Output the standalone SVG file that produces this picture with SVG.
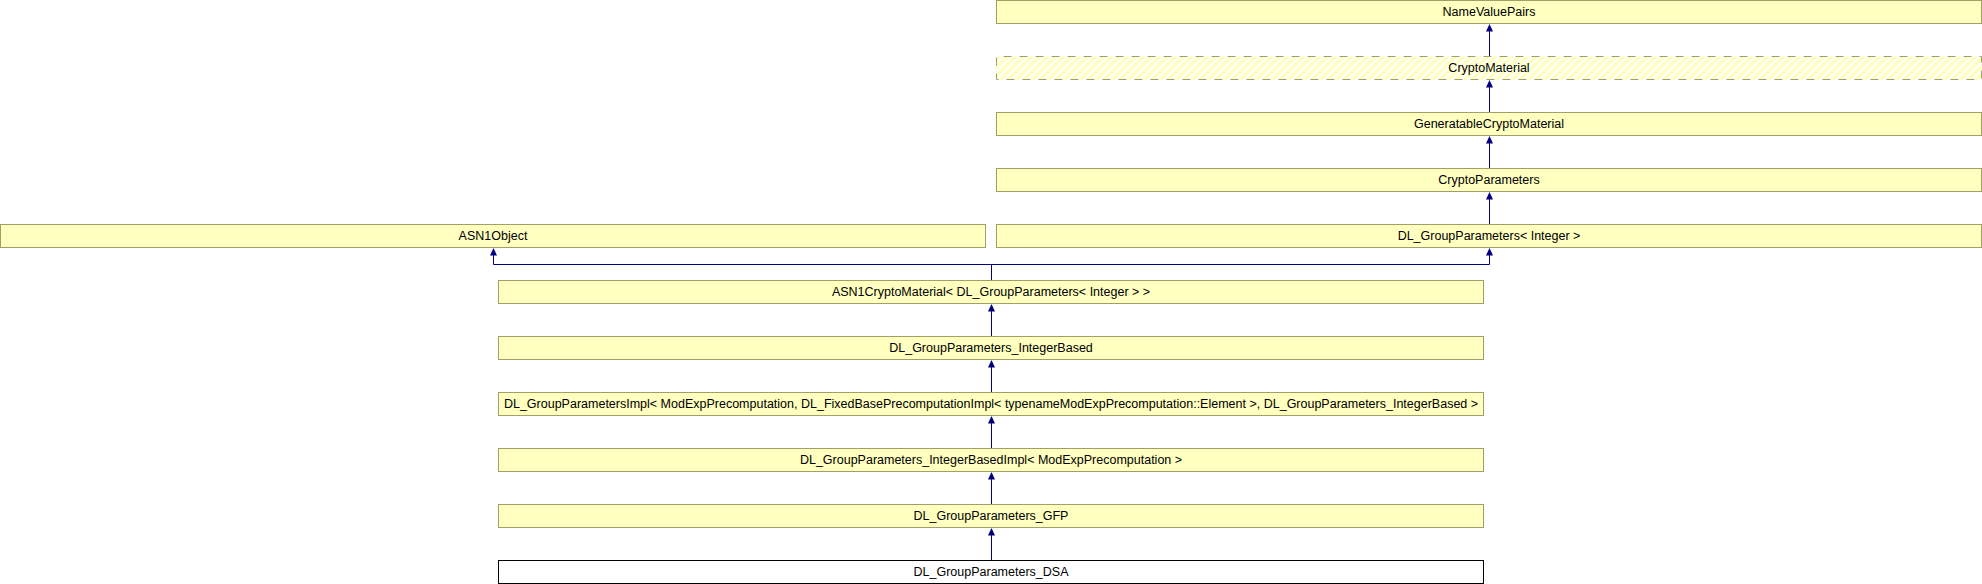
<svg xmlns="http://www.w3.org/2000/svg" width="1982" height="584" viewBox="0 0 1982 584">
<style>
.box{fill:#FFFFC0;stroke:#A0A066;stroke-width:1}
.cur{fill:#FFFFFF;stroke:#000000;stroke-width:1}
.virt{fill:url(#hatch);stroke:#A0A066;stroke-width:1;stroke-dasharray:8 8;stroke-dashoffset:9}
.lbl{font-family:"Liberation Sans",Arial,sans-serif;font-size:12.5px;fill:#000000;text-anchor:middle}
.edge{fill:none;stroke:#000080;stroke-width:1}
.head{fill:#000080;stroke:none}
</style>
<defs>
<pattern id="hatch" patternUnits="userSpaceOnUse" width="8" height="8">
<rect x="0" y="0" width="8" height="8" fill="#FFFFFF"/>
<path d="M-2,2 L2,-2 M0,8 L8,0 M6,10 L10,6" stroke="#FFFFC0" stroke-width="3.5"/>
</pattern>
</defs>
<rect x="0" y="0" width="1982" height="584" fill="#FFFFFF"/>
<g id="connectors">
<path class="edge" d="M1489.5,31 V56.5"/>
<polygon class="head" points="1489.5,24 1486,31.5 1493,31.5"/>
<path class="edge" d="M1489.5,87 V112.5"/>
<polygon class="head" points="1489.5,80 1486,87.5 1493,87.5"/>
<path class="edge" d="M1489.5,143 V168.5"/>
<polygon class="head" points="1489.5,136 1486,143.5 1493,143.5"/>
<path class="edge" d="M1489.5,199 V224.5"/>
<polygon class="head" points="1489.5,192 1486,199.5 1493,199.5"/>
<path class="edge" d="M493.5,255 V264.5 H1489.5 V255 M991.5,264.5 V280.5"/>
<polygon class="head" points="493.5,248 490,255.5 497,255.5"/>
<polygon class="head" points="1489.5,248 1486,255.5 1493,255.5"/>
<path class="edge" d="M991.5,311 V336.5"/>
<polygon class="head" points="991.5,304 988,311.5 995,311.5"/>
<path class="edge" d="M991.5,367 V392.5"/>
<polygon class="head" points="991.5,360 988,367.5 995,367.5"/>
<path class="edge" d="M991.5,423 V448.5"/>
<polygon class="head" points="991.5,416 988,423.5 995,423.5"/>
<path class="edge" d="M991.5,479 V504.5"/>
<polygon class="head" points="991.5,472 988,479.5 995,479.5"/>
<path class="edge" d="M991.5,535 V560.5"/>
<polygon class="head" points="991.5,528 988,535.5 995,535.5"/>
</g>
<g id="NameValuePairs">
<rect class="box" x="996.5" y="0.5" width="985" height="23"/>
<text class="lbl" x="1489" y="16">NameValuePairs</text>
</g>
<g id="CryptoMaterial">
<rect class="virt" x="996.5" y="56.5" width="985" height="23"/>
<text class="lbl" x="1489" y="72">CryptoMaterial</text>
</g>
<g id="GeneratableCryptoMaterial">
<rect class="box" x="996.5" y="112.5" width="985" height="23"/>
<text class="lbl" x="1489" y="128">GeneratableCryptoMaterial</text>
</g>
<g id="CryptoParameters">
<rect class="box" x="996.5" y="168.5" width="985" height="23"/>
<text class="lbl" x="1489" y="184">CryptoParameters</text>
</g>
<g id="ASN1Object">
<rect class="box" x="0.5" y="224.5" width="985" height="23"/>
<text class="lbl" x="493" y="240">ASN1Object</text>
</g>
<g id="DL_GroupParameters_Integer">
<rect class="box" x="996.5" y="224.5" width="985" height="23"/>
<text class="lbl" x="1489" y="240">DL_GroupParameters&lt; Integer &gt;</text>
</g>
<g id="ASN1CryptoMaterial">
<rect class="box" x="498.5" y="280.5" width="985" height="23"/>
<text class="lbl" x="991" y="296">ASN1CryptoMaterial&lt; DL_GroupParameters&lt; Integer &gt; &gt;</text>
</g>
<g id="DL_GroupParameters_IntegerBased">
<rect class="box" x="498.5" y="336.5" width="985" height="23"/>
<text class="lbl" x="991" y="352">DL_GroupParameters_IntegerBased</text>
</g>
<g id="DL_GroupParametersImpl">
<rect class="box" x="498.5" y="392.5" width="985" height="23"/>
<text class="lbl" x="991" y="408">DL_GroupParametersImpl&lt; ModExpPrecomputation, DL_FixedBasePrecomputationImpl&lt; typenameModExpPrecomputation::Element &gt;, DL_GroupParameters_IntegerBased &gt;</text>
</g>
<g id="DL_GroupParameters_IntegerBasedImpl">
<rect class="box" x="498.5" y="448.5" width="985" height="23"/>
<text class="lbl" x="991" y="464">DL_GroupParameters_IntegerBasedImpl&lt; ModExpPrecomputation &gt;</text>
</g>
<g id="DL_GroupParameters_GFP">
<rect class="box" x="498.5" y="504.5" width="985" height="23"/>
<text class="lbl" x="991" y="520">DL_GroupParameters_GFP</text>
</g>
<g id="DL_GroupParameters_DSA">
<rect class="cur" x="498.5" y="560.5" width="985" height="23"/>
<text class="lbl" x="991" y="576">DL_GroupParameters_DSA</text>
</g>
</svg>
